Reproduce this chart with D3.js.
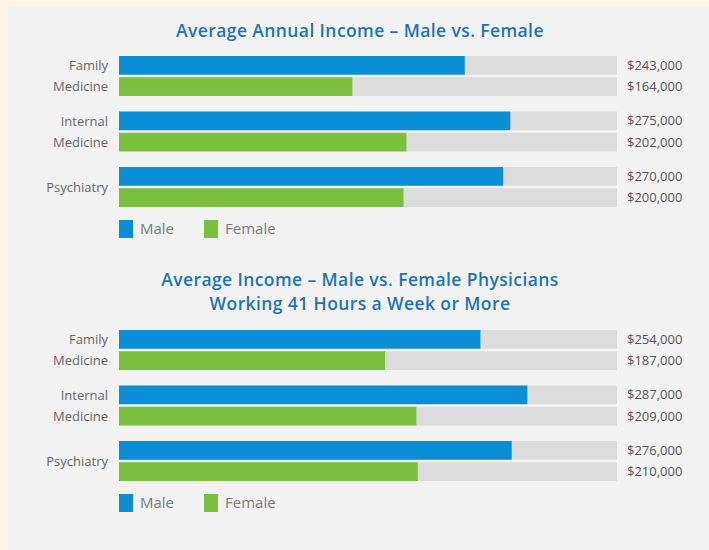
<!DOCTYPE html>
<html>
<head>
<meta charset="utf-8">
<script src="https://cdn.jsdelivr.net/npm/d3@7"></script>
<style>
  body { margin: 0; background: #f2f2f3; overflow: hidden; }
  svg { display: block; }
</style>
</head>
<body>
<div id="vis"></div>
<script>
// data
var categories = ["Family Medicine", "Internal Medicine", "Psychiatry"];
var catLines = [["Family", "Medicine"], ["Internal", "Medicine"], ["Psychiatry"]];
var series = ["Male", "Female"];
var annualMale = [243000, 275000, 270000];
var annualFemale = [164000, 202000, 200000];
var hoursMale = [254000, 287000, 276000];
var hoursFemale = [187000, 209000, 210000];
var title1 = ["Average Annual Income – Male vs. Female"];
var title2 = ["Average Income – Male vs. Female Physicians", "Working 41 Hours a Week or More"];

var w = 709, h = 550;
var colors = {Male: "#0a8ed6", Female: "#7bbf3f"};
var fmt = d3.format("$,");

var svg = d3.select("#vis").append("svg")
  .attr("width", w)
  .attr("height", h);

// grey panel with cream border on top / left
svg.append("rect")
  .attr("width", w).attr("height", h)
  .attr("fill", "#fdf6e6");
svg.append("rect")
  .attr("x", 8).attr("y", 6)
  .attr("width", w - 8).attr("height", h - 6)
  .attr("fill", "#f2f2f3");

var x = d3.scaleLinear().domain([0, 350000]).range([119, 617]);

function drawChart(titles, titleY, top, male, female) {
  var g = svg.append("g");

  titles.forEach(function(t, i) {
    g.append("text")
      .attr("x", 360)
      .attr("y", titleY + i * 24)
      .attr("text-anchor", "middle")
      .attr("font-family", "Open Sans")
      .attr("font-weight", 600)
      .attr("font-size", "17.5px")
      .attr("letter-spacing", "0.4px")
      .attr("fill", "#1f72b6")
      .text(t);
  });

  var y = d3.scaleBand().domain(categories).range([top, top + 151]).paddingInner(0.28);
  var ySub = d3.scaleBand().domain(series).range([0, y.bandwidth()]).paddingInner(0.12);

  var rows = [];
  categories.forEach(function(c, i) {
    rows.push({cat: c, s: "Male", v: male[i]});
    rows.push({cat: c, s: "Female", v: female[i]});
  });

  // tracks
  g.selectAll("rect.track").data(rows).enter().append("rect")
    .attr("class", "track")
    .attr("x", x(0))
    .attr("y", function(d) { return y(d.cat) + ySub(d.s); })
    .attr("width", x(350000) - x(0))
    .attr("height", ySub.bandwidth())
    .attr("fill", "#dcdcdc");

  g.selectAll("rect.bar").data(rows).enter().append("rect")
    .attr("class", "bar")
    .attr("x", x(0))
    .attr("y", function(d) { return y(d.cat) + ySub(d.s); })
    .attr("width", function(d) { return x(d.v) - x(0); })
    .attr("height", ySub.bandwidth())
    .attr("fill", function(d) { return colors[d.s]; });

  // values
  g.selectAll("text.val").data(rows).enter().append("text")
    .attr("class", "val")
    .attr("x", 627)
    .attr("y", function(d) { return y(d.cat) + ySub(d.s) + ySub.bandwidth() / 2; })
    .attr("dy", "0.35em")
    .attr("font-family", "Open Sans")
    .attr("font-size", "13px")
    .attr("fill", "#555")
    .text(function(d) { return fmt(d.v); });

  // category labels
  categories.forEach(function(c, i) {
    var lines = catLines[i];
    var cy = y(c) + y.bandwidth() / 2;
    lines.forEach(function(l, j) {
      g.append("text")
        .attr("x", 108)
        .attr("y", cy + (j - (lines.length - 1) / 2) * 21)
        .attr("dy", "0.35em")
        .attr("text-anchor", "end")
        .attr("font-family", "Open Sans")
        .attr("font-size", "13px")
        .attr("fill", "#666")
        .text(l);
    });
  });

  // legend
  var ly = top + 164;
  var leg = g.selectAll("g.leg").data(series).enter().append("g")
    .attr("transform", function(d, i) { return "translate(" + (119 + i * 85) + "," + ly + ")"; });
  leg.append("rect")
    .attr("width", 14).attr("height", 18)
    .attr("fill", function(d) { return colors[d]; });
  leg.append("text")
    .attr("x", 21).attr("y", 9)
    .attr("dy", "0.35em")
    .attr("font-family", "Open Sans")
    .attr("font-size", "15px")
    .attr("fill", "#7a7a7a")
    .text(function(d) { return d; });
}

drawChart(title1, 37, 56, annualMale, annualFemale);
drawChart(title2, 286, 330, hoursMale, hoursFemale);
</script>
</body>
</html>
